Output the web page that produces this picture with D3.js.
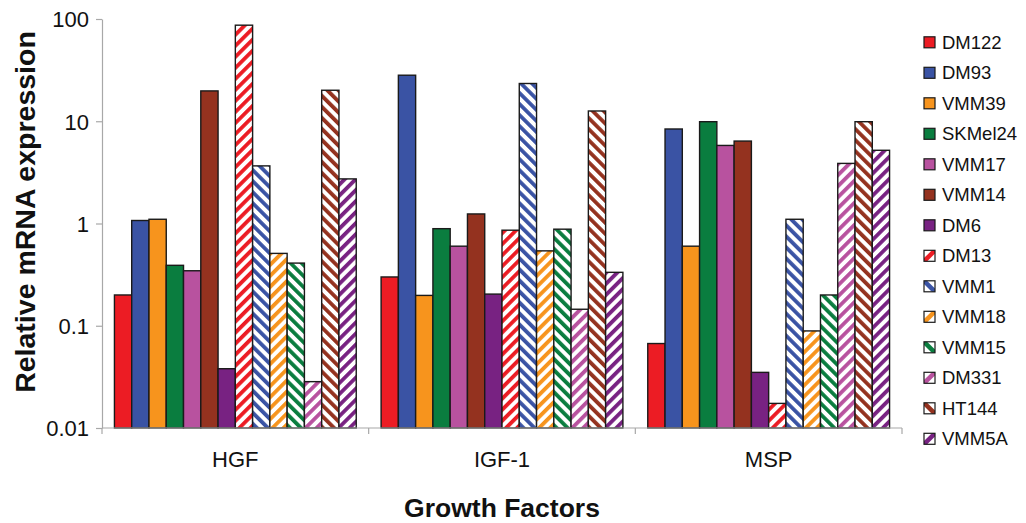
<!DOCTYPE html>
<html>
<head>
<meta charset="utf-8">
<script src="https://cdn.jsdelivr.net/npm/d3@7"></script>
<style>
  html, body { margin: 0; padding: 0; background: #fff; }
  svg { display: block; font-family: "Liberation Sans", Arial, sans-serif; }
</style>
</head>
<body>
<svg id="chart" width="1026" height="523"></svg>
<script>
// Growth factor groups and cell lines
const factors = ["HGF", "IGF-1", "MSP"];
const cellLines = ["DM122", "DM93", "VMM39", "SKMel24", "VMM17", "VMM14", "DM6",
                   "DM13", "VMM1", "VMM18", "VMM15", "DM331", "HT144", "VMM5A"];

// Relative mRNA expression per cell line, in factor order (HGF, IGF-1, MSP)
const DM122   = [0.20, 0.30, 0.067];
const DM93    = [1.07, 28.2, 8.4];
const VMM39   = [1.10, 0.198, 0.60];
const SKMel24 = [0.39, 0.89, 9.9];
const VMM17   = [0.345, 0.60, 5.8];
const VMM14   = [19.8, 1.24, 6.4];
const DM6     = [0.038, 0.204, 0.035];
const DM13    = [87, 0.86, 0.0174];
const VMM1    = [3.66, 23.4, 1.10];
const VMM18   = [0.51, 0.54, 0.089];
const VMM15   = [0.41, 0.88, 0.20];
const DM331   = [0.0284, 0.145, 3.87];
const HT144   = [20.1, 12.6, 9.9];
const VMM5A   = [2.73, 0.333, 5.2];

const yTicks = [0.01, 0.1, 1, 10, 100];
const yTickLabels = ["0.01", "0.1", "1", "10", "100"];

const seriesValues = {DM122, DM93, VMM39, SKMel24, VMM17, VMM14, DM6,
                      DM13, VMM1, VMM18, VMM15, DM331, HT144, VMM5A};

// Fill styling: solid for the first seven, hatched for the rest
const colors = {
  DM122: "#ec1c24", DM93: "#3a53a4", VMM39: "#f7941d", SKMel24: "#0a7d3f",
  VMM17: "#b8529f", VMM14: "#94321f", DM6: "#782282",
  DM13: "#ec1c24", VMM1: "#3a53a4", VMM18: "#f7941d", VMM15: "#0a7d3f",
  DM331: "#b8529f", HT144: "#94321f", VMM5A: "#782282"
};
const hatch = { DM13: "/", VMM1: "\\", VMM18: "/", VMM15: "\\", DM331: "/", HT144: "\\", VMM5A: "/" };

const svg = d3.select("#chart");
const plotLeft = 102, plotRight = 902, plotTop = 19, plotBottom = 428;

const x0 = d3.scaleBand().domain(factors).range([plotLeft, plotRight]).padding(0);
const x1 = d3.scaleBand().domain(cellLines).range([0, x0.bandwidth()])
  .paddingInner(0).paddingOuter(0.72);
const y = d3.scaleLog().domain([0.01, 100]).range([plotBottom, plotTop]);

// Hatch patterns
const defs = svg.append("defs");
cellLines.filter(c => hatch[c]).forEach(c => {
  const p = defs.append("pattern")
    .attr("id", "hatch-" + c)
    .attr("patternUnits", "userSpaceOnUse")
    .attr("width", 7.8).attr("height", 7.8)
    .attr("patternTransform", hatch[c] === "/" ? "rotate(45)" : "rotate(-45)");
  p.append("rect").attr("width", 7.8).attr("height", 7.8).attr("fill", "#fff");
  p.append("rect").attr("width", 3.8).attr("height", 7.8).attr("fill", colors[c]);
});
const fillOf = c => hatch[c] ? `url(#hatch-${c})` : colors[c];

// Bars
const groups = svg.append("g").selectAll("g")
  .data(factors).join("g")
  .attr("transform", d => `translate(${x0(d)},0)`);

groups.selectAll("rect")
  .data((f, i) => cellLines.map(c => ({ c, v: seriesValues[c][i] })))
  .join("rect")
  .attr("x", d => x1(d.c))
  .attr("width", x1.bandwidth())
  .attr("y", d => y(d.v))
  .attr("height", d => y(0.01) - y(d.v))
  .attr("fill", d => fillOf(d.c))
  .attr("stroke", "#1a1a1a")
  .attr("stroke-width", 1.4);

// Y axis
const yAxis = d3.axisLeft(y).tickValues(yTicks)
  .tickFormat((d, i) => yTickLabels[i]).tickSize(6).tickSizeOuter(0);
const gy = svg.append("g").attr("transform", `translate(${plotLeft},0)`).call(yAxis);
gy.select(".domain").attr("stroke", "#a8a8a8").attr("stroke-width", 1.2);
gy.selectAll(".tick line").attr("stroke", "#a8a8a8").attr("stroke-width", 1.2);
gy.selectAll(".tick text").attr("font-size", 22).attr("fill", "#111")
  .attr("x", -13).attr("dy", "0.36em")
  .attr("font-family", "'Liberation Sans', Arial, sans-serif");

// X axis with ticks at the group boundaries
const gx = svg.append("g").attr("transform", `translate(0,${plotBottom})`);
gx.append("line").attr("x1", plotLeft).attr("x2", plotRight)
  .attr("stroke", "#a8a8a8").attr("stroke-width", 1.2);
gx.selectAll("line.sep")
  .data(factors.map(f => x0(f)).concat([plotRight]))
  .join("line").attr("class", "sep")
  .attr("x1", d => d).attr("x2", d => d).attr("y1", 0).attr("y2", 6)
  .attr("stroke", "#a8a8a8").attr("stroke-width", 1.2);
gx.selectAll("text")
  .data(factors).join("text")
  .attr("x", d => x0(d) + x0.bandwidth() / 2)
  .attr("y", 39)
  .attr("text-anchor", "middle")
  .attr("font-size", 22).attr("fill", "#111")
  .text(d => d);

// Axis titles
svg.append("text")
  .attr("x", (plotLeft + plotRight) / 2).attr("y", 517)
  .attr("text-anchor", "middle")
  .attr("font-size", 26.5).attr("font-weight", "bold").attr("fill", "#111")
  .text("Growth Factors");
svg.append("text")
  .attr("transform", `translate(35,212) rotate(-90)`)
  .attr("text-anchor", "middle")
  .attr("font-size", 28.5).attr("font-weight", "bold").attr("fill", "#111")
  .text("Relative mRNA expression");

// Legend
const legend = svg.append("g").attr("transform", "translate(924,42.3)");
const item = legend.selectAll("g").data(cellLines).join("g")
  .attr("transform", (d, i) => `translate(0,${i * 30.5})`);
const sw = 11;
item.append("clipPath").attr("id", d => "clip-" + d)
  .append("rect").attr("x", 0).attr("y", -sw / 2).attr("width", sw).attr("height", sw);
item.append("rect")
  .attr("x", 0).attr("y", -sw / 2).attr("width", sw).attr("height", sw)
  .attr("fill", d => hatch[d] ? "#fff" : colors[d]);
item.filter(d => hatch[d]).append("line")
  .attr("clip-path", d => `url(#clip-${d})`)
  .attr("x1", 0).attr("x2", sw)
  .attr("y1", d => hatch[d] === "/" ? sw / 2 : -sw / 2)
  .attr("y2", d => hatch[d] === "/" ? -sw / 2 : sw / 2)
  .attr("stroke", d => colors[d]).attr("stroke-width", 4.5);
item.append("rect")
  .attr("x", 0).attr("y", -sw / 2).attr("width", sw).attr("height", sw)
  .attr("fill", "none").attr("stroke", "#1a1a1a").attr("stroke-width", 1.2);
item.append("text")
  .attr("x", 18).attr("y", 0).attr("dy", "0.35em")
  .attr("font-size", 18.5).attr("fill", "#111")
  .text(d => d);
</script>
</body>
</html>
